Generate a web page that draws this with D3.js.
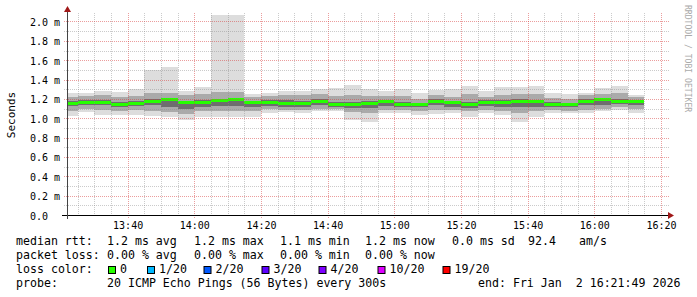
<!DOCTYPE html>
<html><head><meta charset="utf-8">
<script src="https://cdn.jsdelivr.net/npm/d3@7"></script>
<style>
html,body{margin:0;padding:0;background:#fff;}
svg{display:block;}
text{font-family:"DejaVu Sans Mono",monospace;white-space:pre;}
</style>
</head><body>
<svg id="c" width="697" height="297"></svg>
<script>
// ---- data (column end times, 5-minute steps) ----
const times = ["13:25","13:30","13:35","13:40","13:45","13:50","13:55","14:00","14:05","14:10",
               "14:15","14:20","14:25","14:30","14:35","14:40","14:45","14:50","14:55","15:00",
               "15:05","15:10","15:15","15:20","15:25","15:30","15:35","15:40","15:45","15:50",
               "15:55","16:00","16:05","16:10","16:15"];
// smoke quantiles (ms)
const minV   = [1.02,1.06,1.03,1.03,1.03,1.02,1.01,0.98,1.01,1.015,1.015,1.015,1.057,1.06,1.05,1.075,1.07,0.98,0.965,1.057,1.057,1.03,1.044,1.057,1.015,1.05,1.03,0.965,1.015,1.057,1.057,1.057,1.07,1.09,1.05];
const p15    = [1.08,1.10,1.09,1.08,1.09,1.08,1.06,1.04,1.07,1.07,1.07,1.08,1.10,1.09,1.09,1.10,1.10,1.06,1.05,1.09,1.09,1.08,1.09,1.09,1.07,1.09,1.08,1.05,1.07,1.09,1.08,1.09,1.10,1.12,1.10];
const p35    = [1.13,1.14,1.14,1.12,1.13,1.14,1.12,1.10,1.12,1.13,1.13,1.12,1.13,1.12,1.12,1.14,1.12,1.11,1.11,1.13,1.12,1.12,1.14,1.12,1.11,1.13,1.12,1.12,1.12,1.12,1.12,1.14,1.14,1.15,1.14];
const median = [1.155,1.163,1.16,1.147,1.155,1.176,1.19,1.16,1.16,1.18,1.19,1.16,1.165,1.157,1.15,1.175,1.147,1.142,1.157,1.171,1.142,1.142,1.176,1.16,1.145,1.163,1.16,1.178,1.171,1.147,1.142,1.176,1.19,1.178,1.176];
const p65    = [1.18,1.19,1.19,1.17,1.18,1.20,1.21,1.18,1.19,1.20,1.21,1.18,1.19,1.19,1.18,1.20,1.17,1.17,1.18,1.19,1.17,1.16,1.20,1.18,1.17,1.19,1.19,1.20,1.19,1.17,1.16,1.20,1.21,1.20,1.19];
const p85    = [1.22,1.23,1.24,1.22,1.23,1.26,1.26,1.24,1.25,1.27,1.27,1.22,1.23,1.24,1.24,1.25,1.23,1.24,1.23,1.23,1.23,1.20,1.24,1.22,1.25,1.22,1.24,1.25,1.25,1.21,1.20,1.24,1.25,1.26,1.22];
const maxV   = [1.26,1.26,1.28,1.27,1.30,1.50,1.53,1.285,1.32,2.10,2.10,1.25,1.26,1.285,1.285,1.30,1.316,1.344,1.30,1.285,1.30,1.258,1.29,1.30,1.333,1.285,1.32,1.32,1.333,1.265,1.247,1.265,1.31,1.333,1.24];
// y axis tick values / labels
const yTicks = [0,0.2,0.4,0.6,0.8,1.0,1.2,1.4,1.6,1.8,2.0];
const yTickLabels = ["0.0","0.2 m","0.4 m","0.6 m","0.8 m","1.0 m","1.2 m","1.4 m","1.6 m","1.8 m","2.0 m"];
// legend
const rttStats  = ["1.2 ms avg","1.2 ms max","1.1 ms min","1.2 ms now","0.0 ms sd","92.4","am/s"];
const lossStats = ["0.00 % avg","0.00 % max","0.00 % min","0.00 % now"];
const lossLabels = ["0","1/20","2/20","3/20","4/20","10/20","19/20"];
const lossColors = ["#26ff00","#00b8ff","#0059ff","#5e00ff","#7e00ff","#dd00ff","#ff0000"];
const probeText = "20 ICMP Echo Pings (56 Bytes) every 300s";
const endText = "end: Fri Jan  2 16:21:49 2026";

// ---- chart ----
const svg = d3.select("#c");
const L = 67, R = 667, T = 15, B = 215;
const parse = s => { const [h,m] = s.split(":").map(Number); return new Date(2026,0,2,h,m,0); };
const tStart = new Date(2026,0,2,13,21,49), tEnd = new Date(2026,0,2,16,21,49);
const x = d3.scaleTime().domain([tStart,tEnd]).range([L,R]);
const y = d3.scaleLinear().domain([0,2.067]).range([B,T]);

svg.append("defs").append("clipPath").attr("id","clip")
  .append("rect").attr("x",L).attr("y",T).attr("width",R-L).attr("height",B-T);

const cols = times.map((t,i) => {
  const te = parse(t), ts = new Date(te.getTime()-300000);
  return {x0: Math.max(x(ts),L), x1: x(te), mn:minV[i], a:p15[i], b:p35[i], md:median[i], c:p65[i], d:p85[i], mx:maxV[i]};
});

const g = svg.append("g").attr("clip-path","url(#clip)").attr("shape-rendering","crispEdges");
const bands = [["mn","mx","#dddddd"],["a","d","#aaaaaa"],["b","c","#6e6e6e"]];
bands.forEach(([lo,hi,col]) => {
  g.selectAll(null).data(cols).enter().append("rect")
    .attr("x",d=>d.x0).attr("width",d=>d.x1-d.x0)
    .attr("y",d=>y(d[hi])).attr("height",d=>y(d[lo])-y(d[hi]))
    .attr("fill",col);
});
g.selectAll(null).data(cols).enter().append("rect")
  .attr("x",d=>d.x0).attr("width",d=>d.x1-d.x0)
  .attr("y",d=>y(d.md)-1.5).attr("height",3)
  .attr("fill",lossColors[0]);

// ---- grid ----
const grid = svg.append("g").attr("shape-rendering","crispEdges");
const minorCol = "rgba(140,140,140,0.45)", majorCol = "rgba(215,60,60,0.5)";
const minorX = x.ticks(d3.timeMinute.every(5)).filter(t => t.getMinutes()%20!==0);
const majorX = x.ticks(d3.timeMinute.every(20));
grid.selectAll(null).data(minorX).enter().append("line")
  .attr("x1",d=>Math.round(x(d))+0.5).attr("x2",d=>Math.round(x(d))+0.5)
  .attr("y1",13).attr("y2",B).attr("stroke",minorCol).attr("stroke-dasharray","1,1");
grid.selectAll(null).data(majorX).enter().append("line")
  .attr("x1",d=>Math.round(x(d))+0.5).attr("x2",d=>Math.round(x(d))+0.5)
  .attr("y1",13).attr("y2",B+3).attr("stroke",majorCol).attr("stroke-dasharray","1,1");
const minorY = d3.range(1,21,2).map(v=>v/10);
grid.selectAll(null).data(minorY).enter().append("line")
  .attr("x1",L-3).attr("x2",R+2).attr("y1",d=>Math.round(y(d))+0.5).attr("y2",d=>Math.round(y(d))+0.5)
  .attr("stroke",minorCol).attr("stroke-dasharray","1,1");
grid.selectAll(null).data(yTicks.slice(1)).enter().append("line")
  .attr("x1",L-3).attr("x2",R+2).attr("y1",d=>Math.round(y(d))+0.5).attr("y2",d=>Math.round(y(d))+0.5)
  .attr("stroke",majorCol).attr("stroke-dasharray","1,1");

// ---- axes ----
const xAxis = svg.append("g").attr("transform",`translate(0,${B})`)
  .call(d3.axisBottom(x).ticks(d3.timeMinute.every(20)).tickFormat(d3.timeFormat("%H:%M")).tickSize(0).tickPadding(0));
xAxis.select(".domain").remove();
xAxis.selectAll("text").attr("y",14).attr("dy",null).attr("font-size","10px").attr("fill","#000")
  .style("font-family","DejaVu Sans Mono");

const yAxis = svg.append("g").attr("transform",`translate(${L},0)`)
  .call(d3.axisLeft(y).tickValues(yTicks).tickFormat((d,i)=>yTickLabels[i]).tickSize(0).tickPadding(0));
yAxis.select(".domain").remove();
yAxis.selectAll("text").attr("x",30-L).attr("dy","4px").attr("text-anchor","start")
  .attr("font-size","10px").attr("fill","#000").style("font-family","DejaVu Sans Mono");

svg.append("line").attr("x1",L-5).attr("x2",R+2).attr("y1",B+0.5).attr("y2",B+0.5)
  .attr("stroke","#000").attr("shape-rendering","crispEdges");
svg.append("line").attr("x1",L+0.5).attr("x2",L+0.5).attr("y1",B+4).attr("y2",10)
  .attr("stroke","#444").attr("shape-rendering","crispEdges");
svg.append("path").attr("d",`M${L-3},${12} L${L+4},${12} L${L+0.5},${6} Z`).attr("fill","#a01818");
svg.append("path").attr("d",`M${R+1},${B-3} L${R+1},${B+4} L${R+7},${B+0.5} Z`).attr("fill","#a01818");

// unit label
svg.append("text").attr("transform","translate(15,115) rotate(-90)").attr("text-anchor","middle")
  .attr("font-size","11px").attr("fill","#000").text("Seconds");
// watermark
svg.append("text").attr("transform","translate(685,5) rotate(90)").attr("font-size","8.1px")
  .attr("fill","#aaaaaa").text("RRDTOOL / TOBI OETIKER");

// ---- legend ----
const lg = svg.append("g").attr("font-size","11.6px").attr("fill","#000");
const rowY = [245,259,273,287];
lg.append("text").attr("x",16).attr("y",rowY[0]).text("median rtt:");
const rttX = [107,194,280,365,452,528,579];
rttStats.forEach((s,i)=>lg.append("text").attr("x",rttX[i]).attr("y",rowY[0]).text(s));
lg.append("text").attr("x",16).attr("y",rowY[1]).text("packet loss:");
const lossX = [107,194,280,365];
lossStats.forEach((s,i)=>lg.append("text").attr("x",lossX[i]).attr("y",rowY[1]).text(s));
lg.append("text").attr("x",16).attr("y",rowY[2]).text("loss color:");
const boxX = [108,147,203.5,261.5,318.5,377.5,442.5];
lossLabels.forEach((s,i)=>{
  lg.append("rect").attr("x",boxX[i]+0.5).attr("y",266.5).attr("width",7).attr("height",7)
    .attr("fill",lossColors[i]).attr("stroke","#000").attr("stroke-width",1);
  lg.append("text").attr("x",boxX[i]+12).attr("y",rowY[2]).text(s);
});
lg.append("text").attr("x",16).attr("y",rowY[3]).text("probe:");
lg.append("text").attr("x",107).attr("y",rowY[3]).text(probeText);
lg.append("text").attr("x",478).attr("y",rowY[3]).text(endText);
</script>
</body></html>
